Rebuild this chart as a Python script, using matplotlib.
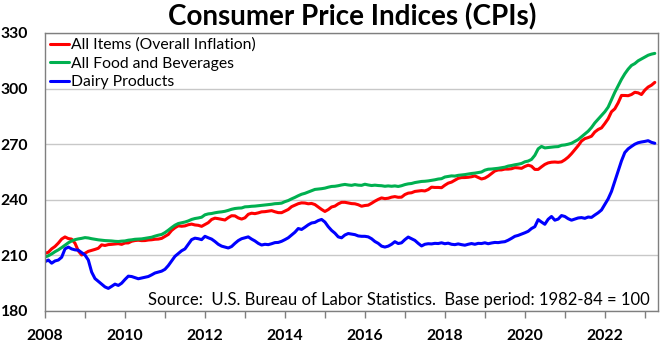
import numpy as np
import matplotlib

matplotlib.use("Agg")

import matplotlib.pyplot as plt  # noqa: E402
from matplotlib.ticker import FixedLocator, MultipleLocator  # noqa: E402

plt.rcParams["font.family"] = ["Lato", "DejaVu Sans"]

# monthly index values, Jan 2008 .. Apr 2023 (1982-84 = 100)
all_items = [
    211.08, 211.69, 213.53, 214.82, 216.63, 218.82, 219.96, 219.09, 218.78, 216.57, 212.43, 210.23,
    211.14, 212.19, 212.71, 213.24, 213.86, 215.69, 215.35, 215.83, 215.97, 216.18, 216.33, 215.95,
    216.69, 216.74, 217.63, 218.01, 218.18, 217.97, 218.01, 218.31, 218.44, 218.71, 218.80, 219.18,
    220.22, 221.31, 223.47, 224.91, 225.96, 225.72, 225.92, 226.55, 226.89, 226.42, 226.23, 225.67,
    226.67, 227.66, 229.39, 230.09, 229.82, 229.48, 229.10, 230.38, 231.41, 231.32, 230.22, 229.60,
    230.28, 232.17, 232.77, 232.53, 232.95, 233.50, 233.60, 233.88, 234.15, 233.55, 233.07, 233.05,
    233.92, 234.78, 236.29, 237.07, 237.90, 238.34, 238.25, 237.85, 238.03, 237.43, 236.15, 234.81,
    233.71, 234.72, 236.12, 236.60, 237.81, 238.64, 238.65, 238.32, 237.95, 237.84, 237.34, 236.53,
    236.92, 237.11, 238.13, 239.26, 240.23, 241.02, 240.63, 240.85, 241.43, 241.73, 241.35, 241.43,
    242.84, 243.60, 243.80, 244.52, 244.73, 244.96, 244.79, 245.52, 246.82, 246.66, 246.67, 246.52,
    247.87, 248.99, 249.55, 250.55, 251.59, 251.99, 252.01, 252.15, 252.44, 252.89, 252.04, 251.23,
    251.71, 252.78, 254.20, 255.55, 256.09, 256.14, 256.57, 256.56, 256.76, 257.35, 257.21, 256.97,
    257.97, 258.68, 258.12, 256.39, 256.39, 257.80, 259.10, 259.92, 260.28, 260.39, 260.23, 260.47,
    261.58, 263.01, 264.88, 267.05, 269.20, 271.70, 273.00, 273.57, 274.31, 276.59, 277.95, 278.80,
    281.15, 283.72, 287.50, 289.11, 292.30, 296.31, 296.28, 296.17, 296.81, 298.01, 297.71, 296.80,
    299.17, 300.84, 301.84, 303.36,
]

food_bev = [
    209.1, 209.8, 210.8, 212.0, 213.0, 214.2, 215.5, 216.8, 217.8, 218.5, 218.9, 219.2,
    219.6, 219.4, 219.0, 218.7, 218.4, 218.2, 218.0, 217.9, 217.8, 217.6, 217.5, 217.7,
    217.8, 218.2, 218.4, 218.7, 218.8, 218.9, 219.2, 219.5, 219.8, 220.4, 220.9, 221.3,
    222.3, 223.6, 225.0, 226.3, 227.2, 227.6, 228.0, 228.6, 229.4, 229.9, 230.2, 230.6,
    231.9, 232.4, 232.6, 233.0, 233.3, 233.5, 233.8, 234.3, 234.9, 235.3, 235.5, 235.6,
    236.2, 236.3, 236.5, 236.6, 236.8, 237.0, 237.2, 237.4, 237.6, 237.9, 238.0, 238.2,
    239.0, 239.6, 240.5, 241.3, 242.2, 243.0, 243.5, 244.2, 244.9, 245.6, 245.8, 246.0,
    246.3, 246.8, 247.2, 247.3, 247.6, 248.0, 248.3, 248.0, 247.8, 248.2, 247.9, 247.8,
    248.4, 248.0, 247.7, 247.9, 247.7, 247.6, 247.3, 247.5, 247.3, 247.5, 247.2, 247.6,
    248.2, 248.6, 248.8, 249.3, 249.6, 249.9, 250.0, 250.2, 250.5, 250.8, 251.2, 251.4,
    252.3, 252.6, 252.9, 252.8, 253.2, 253.4, 253.6, 253.9, 254.2, 254.4, 254.7, 255.0,
    256.0, 256.5, 256.6, 256.8, 257.0, 257.3, 257.6, 258.2, 258.5, 258.9, 259.2, 259.6,
    260.5, 260.9, 261.8, 264.0, 267.5, 268.8, 268.0, 268.2, 268.4, 268.6, 268.7, 269.4,
    269.6, 270.0, 270.5, 271.5, 272.5, 274.0, 275.5, 277.0, 279.0, 281.5, 283.5, 285.5,
    287.5, 290.0, 294.0, 298.0, 301.5, 305.0, 308.0, 310.5, 312.5, 313.5, 315.0, 316.0,
    317.0, 318.0, 318.6, 319.0,
]

dairy = [
    206.6, 207.5, 205.8, 207.0, 207.5, 209.0, 213.5, 214.5, 213.5, 213.0, 212.8, 211.5,
    210.2, 207.5, 201.0, 197.5, 196.0, 194.5, 193.0, 192.2, 193.3, 194.5, 193.8, 195.0,
    197.0, 198.8, 198.6, 198.0, 197.4, 197.8, 198.2, 198.6, 199.5, 200.5, 201.0, 201.5,
    202.5, 204.5, 207.0, 209.5, 211.0, 212.5, 213.5, 216.0, 218.5, 219.3, 219.0, 218.5,
    220.3, 219.5, 218.8, 217.5, 216.0, 215.0, 214.5, 214.0, 214.8, 216.5, 218.0, 219.0,
    219.5, 220.0, 218.8, 217.8, 216.5, 215.6, 216.0, 215.8, 216.3, 216.9, 217.0, 217.6,
    218.5, 219.5, 221.0, 222.5, 224.5, 224.0, 225.2, 226.5, 227.5, 227.8, 228.8, 229.4,
    228.0, 225.5, 223.5, 222.0, 220.0, 219.5, 221.0, 221.8, 221.5, 221.2, 220.5, 220.3,
    220.3, 220.0, 219.0, 217.5, 216.5, 215.0, 214.5, 215.0, 216.0, 217.4, 216.4, 216.8,
    218.5, 219.9, 219.0, 218.1, 216.5, 215.1, 216.0, 216.3, 216.2, 216.5, 216.4, 216.8,
    216.3, 216.6, 216.0, 215.8, 216.2, 215.8, 215.5, 216.0, 216.4, 216.0, 216.5, 216.4,
    216.8, 216.3, 216.7, 217.0, 216.9, 217.2, 217.4, 218.2, 219.2, 220.3, 220.8, 221.5,
    222.2, 223.0, 224.5, 225.5, 229.3, 228.0, 226.8, 229.5, 231.0, 229.0, 229.6, 231.5,
    231.0, 229.8, 229.0, 229.6, 230.2, 230.4, 230.0, 230.7, 230.5, 231.8, 233.0, 234.5,
    237.5, 240.5, 244.5, 250.0, 255.5, 261.0, 265.5, 267.5, 268.8, 270.0, 270.8, 271.2,
    271.5, 271.9, 271.0, 270.5,
]

series_labels = ["All Items (Overall Inflation)", "All Food and Beverages", "Dairy Products"]
series_colors = ["#FF0000", "#00B050", "#0000FF"]
y_ticks = [180, 210, 240, 270, 300, 330]
x_label_years = [2008, 2010, 2012, 2014, 2016, 2018, 2020, 2022]

t = 2008 + np.arange(len(all_items)) / 12.0

fig = plt.figure(figsize=(6.7, 3.44), dpi=100)
ax = fig.add_axes([45 / 670, 33 / 344, 613 / 670, 278 / 344])

for vals, label, color in zip([all_items, food_bev, dairy], series_labels, series_colors):
    ax.plot(t, vals, color=color, linewidth=2.2, label=label, solid_capstyle="round")

ax.set_xlim(2008, 2023.33)
ax.set_ylim(180, 330)
ax.set_yticks(y_ticks)
ax.xaxis.set_major_locator(FixedLocator(x_label_years))
ax.xaxis.set_minor_locator(MultipleLocator(1))
ax.tick_params(axis="x", which="both", direction="out", length=5, width=1, color="#7F7F7F", pad=8)
ax.tick_params(axis="y", length=0, pad=12)
for lab in ax.get_xticklabels() + ax.get_yticklabels():
    lab.set_fontweight("bold")
    lab.set_fontsize(11.3)

ax.grid(axis="y", color="#C8C8C8", linewidth=1)
ax.set_axisbelow(True)
for side in ("left", "bottom", "top", "right"):
    ax.spines[side].set_color("#7F7F7F")
    ax.spines[side].set_linewidth(1)

ax.legend(
    loc="upper left",
    frameon=False,
    fontsize=11.3,
    handlelength=1.25,
    handletextpad=0.1,
    labelspacing=0.3,
    borderaxespad=0.0,
    borderpad=0.3,
)

fig.text(352 / 670, 1 - 17 / 344, "Consumer Price Indices (CPIs)", ha="center", va="center",
         fontsize=20, fontweight="bold")
fig.text(650 / 670, 1 - 300 / 344, "Source:  U.S. Bureau of Labor Statistics.  Base period: 1982-84 = 100",
         ha="right", va="center", fontsize=12)

fig.savefig("out.png", dpi=100)
